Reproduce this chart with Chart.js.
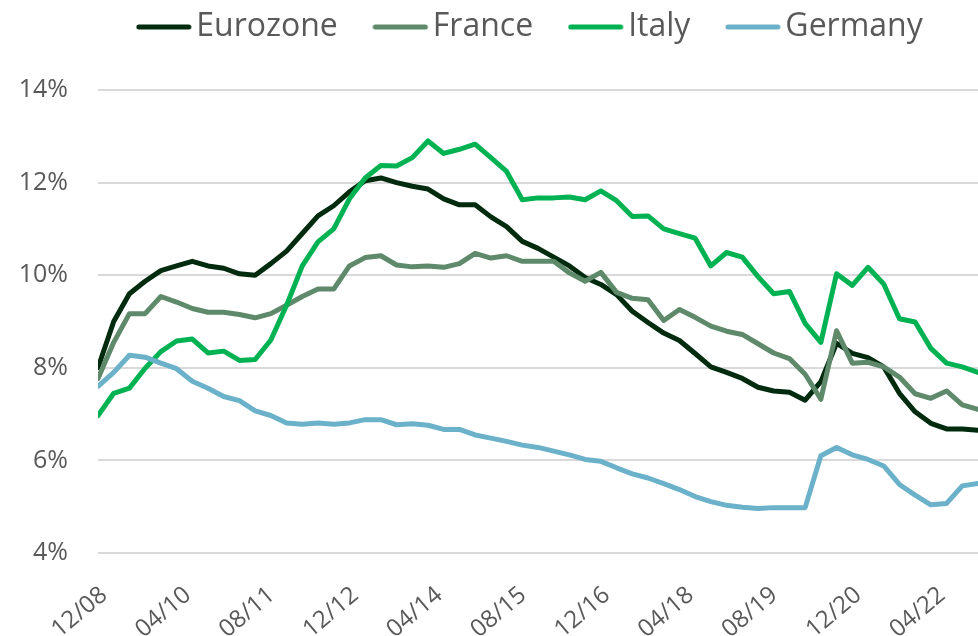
<!DOCTYPE html>
<html>
<head>
<meta charset="utf-8">
<script src="https://cdn.jsdelivr.net/npm/chart.js@4.4.1/dist/chart.umd.min.js"></script>
<style>
  body { margin: 0; background: #fff; }
</style>
</head>
<body>
<canvas id="chart" width="978" height="636"></canvas>
<script>
// quarterly dates, MM/YY
const quarters = [
  '12/08', '03/09', '06/09', '09/09', '12/09', '03/10', '06/10', '09/10', '12/10',
  '03/11', '06/11', '09/11', '12/11', '03/12', '06/12', '09/12', '12/12',
  '03/13', '06/13', '09/13', '12/13', '03/14', '06/14', '09/14', '12/14',
  '03/15', '06/15', '09/15', '12/15', '03/16', '06/16', '09/16', '12/16',
  '03/17', '06/17', '09/17', '12/17', '03/18', '06/18', '09/18', '12/18',
  '03/19', '06/19', '09/19', '12/19', '03/20', '06/20', '09/20', '12/20',
  '03/21', '06/21', '09/21', '12/21', '03/22', '06/22', '09/22', '12/22'
]
const tickLabels = ['12/08', '04/10', '08/11', '12/12', '04/14', '08/15', '12/16', '04/18', '08/19', '12/20', '04/22']

const eurozone = [
  8.0, 9.0, 9.6, 9.87, 10.1, 10.2, 10.3, 10.2, 10.15, 10.03, 10.0, 10.25, 10.52, 10.9, 11.28, 11.5,
  11.8, 12.04, 12.1, 12.0, 11.92, 11.86, 11.65, 11.52, 11.52, 11.26, 11.05, 10.73, 10.58, 10.39, 10.2, 9.95,
  9.8, 9.58, 9.22, 8.98, 8.75, 8.59, 8.31, 8.02, 7.9, 7.77, 7.58, 7.5, 7.47, 7.3, 7.7, 8.53,
  8.31, 8.22, 8.02, 7.45, 7.05, 6.8, 6.68, 6.68, 6.65
]
const france = [
  7.77, 8.55, 9.17, 9.17, 9.54, 9.42, 9.28, 9.2, 9.2, 9.15, 9.08, 9.17, 9.35, 9.54, 9.7, 9.7,
  10.2, 10.38, 10.42, 10.22, 10.18, 10.2, 10.17, 10.25, 10.47, 10.37, 10.42, 10.3, 10.3, 10.3, 10.05, 9.87,
  10.06, 9.63, 9.5, 9.47, 9.02, 9.26, 9.09, 8.9, 8.79, 8.72, 8.52, 8.32, 8.2, 7.86, 7.32, 8.8,
  8.1, 8.12, 8.02, 7.8, 7.44, 7.34, 7.5, 7.2, 7.1
]
const italy = [
  6.97, 7.45, 7.56, 7.99, 8.35, 8.58, 8.62, 8.32, 8.36, 8.16, 8.18, 8.6, 9.35, 10.2, 10.72, 11.0,
  11.65, 12.1, 12.37, 12.36, 12.54, 12.9, 12.63, 12.72, 12.83, 12.54, 12.24, 11.63, 11.67, 11.67, 11.69, 11.63,
  11.82, 11.61, 11.27, 11.28, 11.0, 10.9, 10.8, 10.2, 10.49, 10.39, 9.97, 9.6, 9.65, 8.96, 8.55, 10.03,
  9.78, 10.17, 9.81, 9.06, 8.99, 8.42, 8.1, 8.02, 7.9
]
const germany = [
  7.6, 7.9, 8.27, 8.23, 8.1, 7.98, 7.71, 7.56, 7.38, 7.29, 7.07, 6.97, 6.81, 6.78, 6.81, 6.78,
  6.81, 6.88, 6.88, 6.77, 6.79, 6.76, 6.67, 6.67, 6.55, 6.48, 6.41, 6.33, 6.28, 6.2, 6.12, 6.02,
  5.98, 5.84, 5.71, 5.62, 5.5, 5.37, 5.22, 5.11, 5.03, 4.99, 4.96, 4.98, 4.98, 4.98, 6.1, 6.28,
  6.12, 6.02, 5.88, 5.48, 5.25, 5.04, 5.07, 5.45, 5.5
]

// months since 12/08
function monthIndex(label) {
  const [mm, yy] = label.split('/').map(Number)
  return (yy - 8) * 12 + (mm - 12)
}

function points(values) {
  return values.map((v, i) => ({ x: monthIndex(quarters[i]), y: v }))
}

// legend swatch: a short round-capped line, offset so it sits close to the text
function legendLine(color) {
  const c = document.createElement('canvas')
  c.width = 62
  c.height = 8
  const g = c.getContext('2d')
  g.strokeStyle = color
  g.lineWidth = 5
  g.lineCap = 'round'
  g.beginPath()
  g.moveTo(3, 4)
  g.lineTo(53, 4)
  g.stroke()
  return c
}

const grey = '#595959'
Chart.defaults.font.family = "'Open Sans', sans-serif"
Chart.defaults.color = grey

const legendSpace = {
  id: 'legendSpace',
  beforeInit(chart) {
    const fit = chart.legend.fit
    chart.legend.fit = function () {
      fit.call(this)
      this.height = 131
    }
  }
}

function series(label, values, color, order) {
  return {
    label: label,
    data: points(values),
    borderColor: color,
    backgroundColor: color,
    borderWidth: 5,
    borderCapStyle: 'round',
    borderJoinStyle: 'round',
    pointRadius: 0,
    pointStyle: legendLine(color),
    tension: 0,
    order: order
  }
}

new Chart(document.getElementById('chart'), {
  type: 'line',
  data: {
    datasets: [
      series('Eurozone', eurozone, '#012b0e', 4),
      series('France', france, '#5e8a6b', 3),
      series('Italy', italy, '#00b252', 2),
      series('Germany', germany, '#6bb1c9', 1)
    ]
  },
  options: {
    responsive: false,
    animation: false,
    devicePixelRatio: 1,
    layout: { padding: { top: -41, left: 0, right: 0, bottom: 0 } },
    plugins: {
      tooltip: { enabled: false },
      legend: {
        position: 'top',
        fullSize: false,
        labels: {
          usePointStyle: true,
          pointStyleWidth: 27,
          padding: 52,
          color: grey,
          font: { size: 32 },
          sort: (a, b) => a.datasetIndex - b.datasetIndex
        }
      }
    },
    scales: {
      x: {
        type: 'linear',
        min: 0,
        max: 168,
        grid: { display: false },
        border: { display: false },
        afterBuildTicks: (scale) => {
          scale.ticks = tickLabels.map(l => ({ value: monthIndex(l) }))
        },
        afterFit: (scale) => { scale.height = 83 },
        ticks: {
          autoSkip: false,
          minRotation: 40,
          maxRotation: 40,
          padding: 20,
          labelOffset: 6,
          color: grey,
          font: { size: 24 },
          callback: (value) => {
            const l = tickLabels.find(t => monthIndex(t) === value)
            return l === undefined ? '' : l
          }
        }
      },
      y: {
        min: 4,
        max: 14,
        grid: { color: '#d9d9d9', lineWidth: 2, drawTicks: false },
        border: { display: false },
        afterFit: (scale) => { scale.width = 98 },
        ticks: {
          stepSize: 2,
          padding: 30,
          color: grey,
          font: { size: 25 },
          callback: (v) => v + '%'
        }
      }
    }
  },
  plugins: [legendSpace]
})
</script>
</body>
</html>
